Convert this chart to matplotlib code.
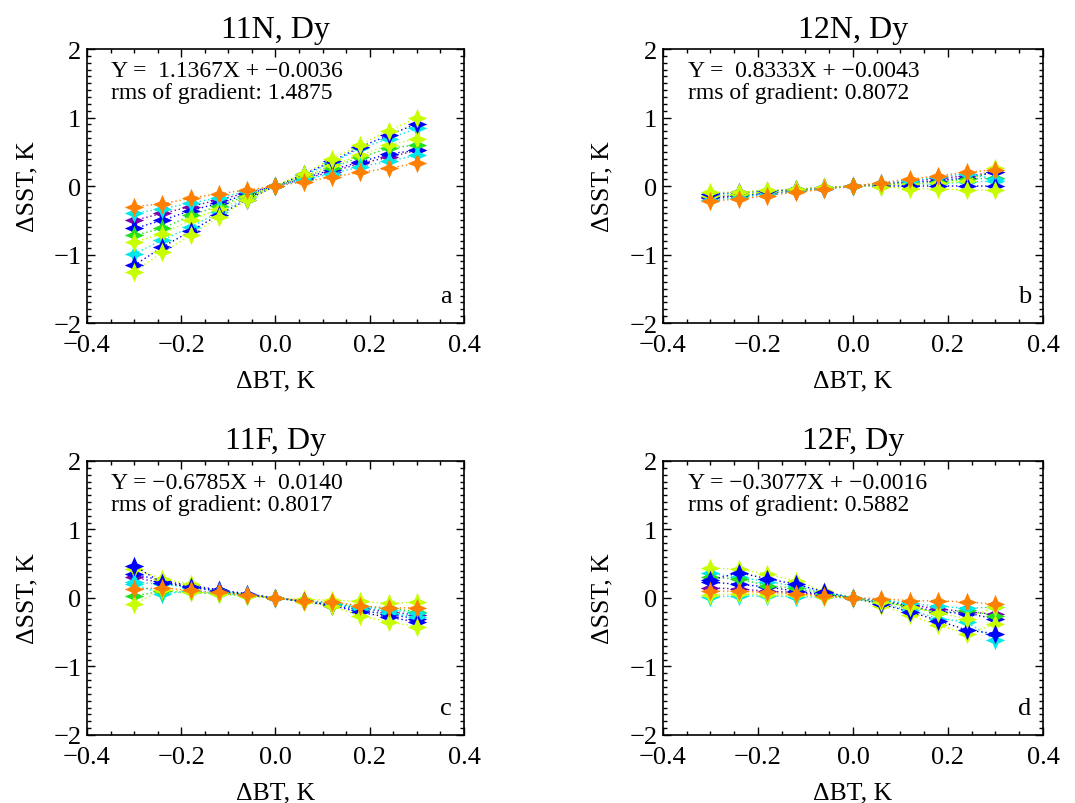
import numpy as np
import matplotlib
matplotlib.use('Agg')
import matplotlib.pyplot as plt
from matplotlib.path import Path
from matplotlib.ticker import MultipleLocator, FuncFormatter

plt.rcParams['font.family'] = ['Liberation Serif', 'DejaVu Serif']
plt.rcParams['axes.unicode_minus'] = True

# x positions of the brightness temperature perturbations
dbt = [-0.30, -0.24, -0.18, -0.12, -0.06, 0.0, 0.06, 0.12, 0.18, 0.24, 0.30]

titles = ['11N, Dy', '12N, Dy', '11F, Dy', '12F, Dy']
letters = ['a', 'b', 'c', 'd']
fit_lines = ['Y =  1.1367X + \u22120.0036',
             'Y =  0.8333X + \u22120.0043',
             'Y = \u22120.6785X +  0.0140',
             'Y = \u22120.3077X + \u22120.0016']
rms_lines = ['rms of gradient: 1.4875',
             'rms of gradient: 0.8072',
             'rms of gradient: 0.8017',
             'rms of gradient: 0.5882']

# series colours, drawn in this order (orange ends on top)
series_colors = ['#7a00b0', '#0000ff', '#00e8e8', '#20e020', '#c8ff00',
                 '#00e8e8', '#0000ff', '#c8ff00', '#ff8000']

# panel a, 11N
sst_a = [
    [-0.50, -0.40, -0.30, -0.20, -0.10, 0.0, 0.10, 0.21, 0.33, 0.42, 0.52],
    [-0.62, -0.50, -0.36, -0.25, -0.12, 0.0, 0.11, 0.24, 0.35, 0.47, 0.52],
    [-0.99, -0.79, -0.60, -0.38, -0.18, 0.0, 0.16, 0.34, 0.55, 0.69, 0.84],
    [-0.72, -0.62, -0.43, -0.29, -0.14, 0.0, 0.13, 0.27, 0.42, 0.55, 0.60],
    [-0.82, -0.70, -0.50, -0.33, -0.16, 0.0, 0.14, 0.30, 0.45, 0.60, 0.69],
    [-0.40, -0.33, -0.25, -0.17, -0.08, 0.0, 0.09, 0.18, 0.28, 0.36, 0.45],
    [-1.16, -0.89, -0.66, -0.42, -0.20, 0.0, 0.17, 0.36, 0.57, 0.74, 0.91],
    [-1.25, -0.97, -0.72, -0.45, -0.21, 0.0, 0.18, 0.40, 0.60, 0.81, 0.99],
    [-0.30, -0.26, -0.18, -0.11, -0.06, 0.0, 0.06, 0.13, 0.20, 0.26, 0.33],
]

# panel b, 12N
sst_b = [
    [-0.18, -0.15, -0.11, -0.07, -0.04, 0.0, 0.03, 0.07, 0.11, 0.15, 0.20],
    [-0.16, -0.14, -0.10, -0.07, -0.03, 0.0, 0.03, 0.05, 0.08, 0.12, 0.20],
    [-0.12, -0.11, -0.08, -0.05, -0.03, 0.0, 0.01, 0.02, 0.03, 0.06, 0.07],
    [-0.15, -0.13, -0.09, -0.06, -0.03, 0.0, 0.02, 0.04, 0.06, 0.10, 0.12],
    [-0.14, -0.12, -0.09, -0.06, -0.03, 0.0, 0.02, 0.03, 0.04, 0.07, 0.27],
    [-0.20, -0.17, -0.12, -0.08, -0.04, 0.0, 0.04, 0.08, 0.13, 0.18, 0.10],
    [-0.11, -0.09, -0.07, -0.05, -0.02, 0.0, 0.00, 0.00, 0.00, 0.00, 0.00],
    [-0.09, -0.09, -0.06, -0.04, -0.02, 0.0, -0.01, -0.04, -0.04, -0.06, -0.06],
    [-0.22, -0.19, -0.14, -0.09, -0.05, 0.0, 0.05, 0.10, 0.15, 0.20, 0.24],
]

# panel c, 11F
sst_c = [
    [0.30, 0.22, 0.17, 0.11, 0.05, 0.0, -0.05, -0.09, -0.15, -0.20, -0.25],
    [0.35, 0.25, 0.18, 0.12, 0.06, 0.0, -0.05, -0.10, -0.18, -0.24, -0.30],
    [0.20, 0.06, 0.10, 0.07, 0.04, 0.0, -0.05, -0.09, -0.16, -0.22, -0.28],
    [0.03, 0.10, 0.08, 0.06, 0.03, 0.0, -0.04, -0.07, -0.12, -0.15, -0.20],
    [0.42, 0.28, 0.20, 0.10, 0.05, 0.0, -0.02, -0.03, -0.05, -0.08, -0.06],
    [0.23, 0.20, 0.15, 0.10, 0.05, 0.0, -0.04, -0.08, -0.13, -0.18, -0.22],
    [0.47, 0.22, 0.16, 0.10, 0.05, 0.0, -0.05, -0.11, -0.21, -0.28, -0.35],
    [-0.09, 0.12, 0.09, 0.06, 0.03, 0.0, -0.06, -0.12, -0.26, -0.35, -0.42],
    [0.13, 0.15, 0.11, 0.08, 0.04, 0.0, -0.04, -0.06, -0.11, -0.15, -0.14],
]

# panel d, 12F
sst_d = [
    [0.15, 0.13, 0.10, 0.08, 0.04, 0.0, -0.04, -0.10, -0.16, -0.20, -0.24],
    [0.23, 0.20, 0.16, 0.10, 0.05, 0.0, -0.05, -0.12, -0.20, -0.23, -0.30],
    [0.36, 0.30, 0.24, 0.17, 0.08, 0.0, -0.08, -0.18, -0.30, -0.35, -0.62],
    [0.30, 0.28, 0.18, 0.14, 0.06, 0.0, -0.06, -0.13, -0.22, -0.18, -0.26],
    [0.44, 0.42, 0.35, 0.25, 0.10, 0.0, -0.11, -0.25, -0.40, -0.52, -0.38],
    [0.02, 0.03, 0.03, 0.02, 0.01, 0.0, -0.03, -0.08, -0.12, -0.15, -0.13],
    [0.26, 0.37, 0.28, 0.20, 0.09, 0.0, -0.09, -0.20, -0.33, -0.47, -0.52],
    [0.05, 0.06, 0.05, 0.04, 0.02, 0.0, -0.06, -0.13, -0.22, -0.30, -0.13],
    [0.10, 0.10, 0.08, 0.06, 0.03, 0.0, -0.01, -0.04, -0.04, -0.06, -0.09],
]

panels = [sst_a, sst_b, sst_c, sst_d]

# four pointed concave star, like the IDL usersym
a = 0.3
star = Path([(0, 1), (a, a), (1, 0), (a, -a), (0, -1), (-a, -a), (-1, 0), (-a, a), (0, 1)],
            [Path.MOVETO] + [Path.LINETO] * 7 + [Path.CLOSEPOLY])


def xfmt(v, pos):
    return ('%.1f' % v).replace('-', '\u2212')


def yfmt(v, pos):
    return ('%d' % round(v)).replace('-', '\u2212')


fig = plt.figure(figsize=(10.75, 8.04), dpi=100)
boxes = [[0.0809, 0.597, 0.3507, 0.3408],
         [0.6167, 0.597, 0.3535, 0.3408],
         [0.0809, 0.0846, 0.3507, 0.3408],
         [0.6167, 0.0846, 0.3535, 0.3408]]

for i in range(4):
    ax = fig.add_axes(boxes[i])
    for cols, ys in zip(series_colors, panels[i]):
        ax.plot(dbt, ys, linestyle=(0, (1, 2)), color=cols, linewidth=1.0,
                marker=star, markersize=14, markeredgewidth=0,
                markerfacecolor=cols)
    ax.set_xlim(-0.4, 0.4)
    ax.set_ylim(-2, 2)
    ax.xaxis.set_major_locator(MultipleLocator(0.2))
    ax.xaxis.set_minor_locator(MultipleLocator(0.05))
    ax.yaxis.set_major_locator(MultipleLocator(1))
    ax.yaxis.set_minor_locator(MultipleLocator(0.1))
    ax.xaxis.set_major_formatter(FuncFormatter(xfmt))
    ax.yaxis.set_major_formatter(FuncFormatter(yfmt))
    ax.tick_params(which='both', direction='in', top=True, right=True,
                   labelsize=19, width=1.0)
    ax.tick_params(which='major', length=6)
    ax.tick_params(which='minor', length=3)
    ax.tick_params(axis='x', which='major', pad=8)
    ax.tick_params(axis='y', which='major', pad=4)
    for sp in ax.spines.values():
        sp.set_linewidth(1.2)
    ax.set_title(titles[i], fontsize=23, pad=9)
    ax.set_xlabel('\u0394BT, K', fontsize=18.5)
    ax.set_ylabel('\u0394SST, K', fontsize=18.5)
    ax.xaxis.set_label_coords(0.5, -0.17)
    ax.yaxis.set_label_coords(-0.13, 0.5)
    ax.text(0.065, 0.96, fit_lines[i], transform=ax.transAxes, fontsize=17, va='top')
    ax.text(0.065, 0.88, rms_lines[i], transform=ax.transAxes, fontsize=17, va='top')
    ax.text(0.953, 0.1, letters[i], transform=ax.transAxes, fontsize=19,
            ha='center', va='center')

plt.savefig('out.png', dpi=100)
